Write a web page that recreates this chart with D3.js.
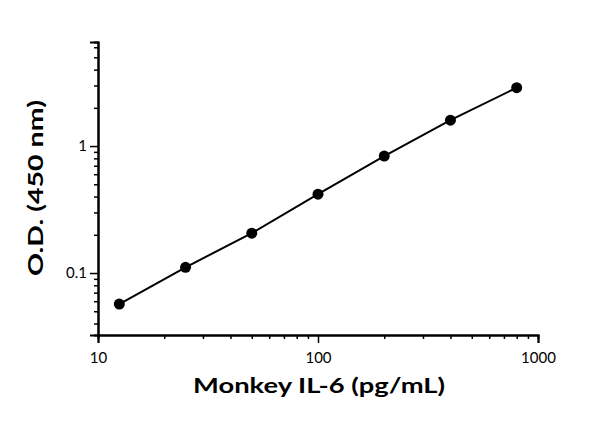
<!DOCTYPE html>
<html><head><meta charset="utf-8">
<script src="https://cdn.jsdelivr.net/npm/d3@7"></script>
<style>body{margin:0;background:#fff}text{font-family:Lato,"DejaVu Sans",sans-serif}</style>
</head><body><div class="svg-container"></div>
<script>
const concentrations = [12.5, 25, 50, 100, 200, 400, 800];
const odValues = [0.057, 0.111, 0.206, 0.418, 0.834, 1.60, 2.88];
const xTickValues = [10, 100, 1000];
const yTickValues = [0.1, 1];

const width = 600, height = 427;
const svg = d3.select(".svg-container").append("svg")
  .attr("width", width).attr("height", height);

const xScale = d3.scaleLog().domain([10, 1000]).range([98, 538]);
const yScale = d3.scaleLog().domain([0.0325, 6.6]).range([335, 42]);

// minor ticks
const xMinor = [];
for (const d of [10, 100]) for (let k = 2; k <= 9; k++) xMinor.push(d * k);
const yMinor = [];
for (const d of [0.01, 0.1, 1]) for (let k = 2; k <= 9; k++) {
  const v = d * k;
  if (v >= 0.0325 && v <= 6.6) yMinor.push(v);
}

const xAxisG = svg.append("g").attr("transform", "translate(0,335)");
xAxisG.call(d3.axisBottom(xScale).tickValues(xMinor).tickSize(4).tickFormat(""));
xAxisG.append("g").call(d3.axisBottom(xScale).tickValues(xTickValues).tickSize(8).tickFormat(d3.format("d")));

const yAxisG = svg.append("g").attr("transform", "translate(98,0)");
yAxisG.call(d3.axisLeft(yScale).tickValues(yMinor).tickSize(4).tickFormat(""));
yAxisG.append("g").call(d3.axisLeft(yScale).tickValues(yTickValues).tickSize(8).tickFormat(d => d));

svg.selectAll(".domain").attr("stroke", "#000").attr("stroke-width", 2);
svg.selectAll(".tick line").attr("stroke", "#000").attr("stroke-width", 1.5);
svg.selectAll(".tick text").attr("fill", "#000").style("font-size", "15px");
xAxisG.selectAll(".tick text").attr("dy", "1.1em");

// axis titles
svg.append("text").attr("x", 319).attr("y", 393).attr("text-anchor", "middle")
  .attr("textLength", 252).attr("lengthAdjust", "spacingAndGlyphs")
  .style("font-size", "21px").style("font-weight", "bold").text("Monkey IL-6 (pg/mL)");
svg.append("text").attr("transform", "translate(43,188) rotate(-90)").attr("text-anchor", "middle")
  .attr("textLength", 176).attr("lengthAdjust", "spacingAndGlyphs")
  .style("font-size", "21px").style("font-weight", "bold").text("O.D. (450 nm)");

const data = concentrations.map((c, i) => ({ c, v: odValues[i] }));
const line = d3.line().x(d => xScale(d.c)).y(d => yScale(d.v));
svg.append("path").datum(data).attr("fill", "none").attr("stroke", "#000")
  .attr("stroke-width", 2).attr("d", line);
svg.selectAll("circle.pt").data(data).enter().append("circle")
  .attr("cx", d => xScale(d.c)).attr("cy", d => yScale(d.v)).attr("r", 5.5).attr("fill", "#000");
</script></body></html>
